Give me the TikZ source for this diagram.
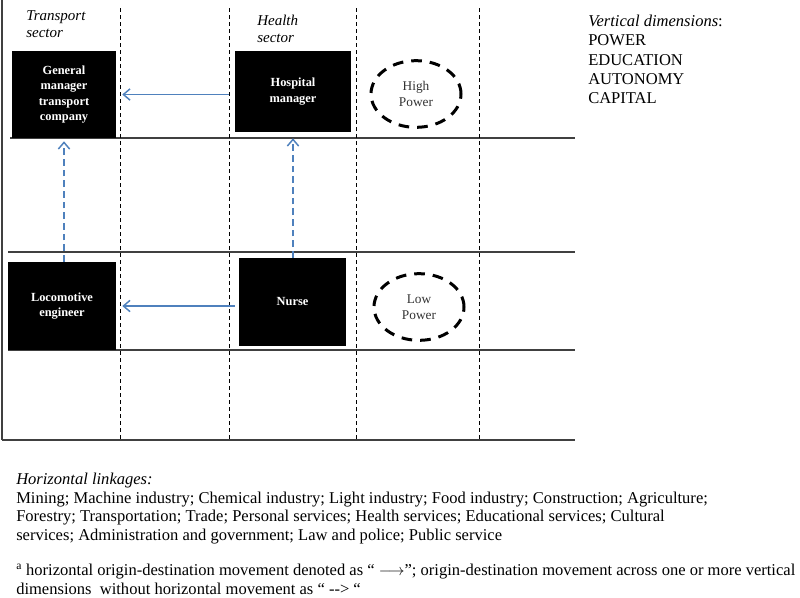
\documentclass[tikz,border=0pt]{standalone}
\usepackage{fontspec}
\setmainfont{Liberation Serif}
\usetikzlibrary{arrows.meta,shapes.geometric}

\tikzset{
  occbox/.style={fill=black, text=white, inner sep=0pt, align=center, font=\bfseries\fontsize{9.3}{11.6}\selectfont},
  powerring/.style={ellipse, draw=black, line width=2.25pt, dash pattern=on 8pt off 6pt, minimum width=67.5pt, minimum height=50pt, inner sep=0pt, align=center, text=black!80, font=\fontsize{10}{11.8}\selectfont},
  sectorline/.style={draw=black!75, line width=1pt},
  columnline/.style={draw=black, line width=0.75pt, dash pattern=on 3pt off 2.25pt},
  movearrow/.style={draw={rgb,255:red,79;green,129;blue,189}, line width=1.1pt, -{Straight Barb[length=5pt,width=8.5pt]}},
  jumparrow/.style={movearrow, dash pattern=on 5pt off 3pt},
  sectorlabel/.style={anchor=north west, inner sep=0pt, align=left, font=\itshape\fontsize{11.25}{12.75}\selectfont},
  notetext/.style={anchor=north west, inner sep=0pt, align=left, font=\fontsize{12.4}{13.9}\selectfont},
}

\begin{document}
\begin{tikzpicture}[x=0.75pt,y=0.75pt,yscale=-1,xscale=1]
\useasboundingbox (0,0) rectangle (800,597);

%Straight Lines
\draw[sectorline] (2,0) -- (2,440);
\draw[sectorline] (10,138) -- (575,138);
\draw[sectorline] (8,252) -- (575,252);
\draw[sectorline] (8,350) -- (575,350);
\draw[sectorline] (2,440) -- (575,440);
%Dashed columns
\foreach \x in {120,229,356,479}
  \draw[columnline] (\x,8) -- (\x,440);

%Shape: Rectangle
\node[occbox, minimum width=78pt, minimum height=65.25pt] (gm) at (64,94.5) {General\\manager\\transport\\company};
\node[occbox, minimum width=87pt, minimum height=60.75pt] (hosp) at (293,91.5) {Hospital\\manager};
\node[occbox, minimum width=81pt, minimum height=66pt] (loco) at (62,306) {Locomotive\\engineer};
\node[occbox, minimum width=80.25pt, minimum height=66pt] (nurse) at (292.5,302) {Nurse};

%Shape: Ellipse
\node[powerring] (high) at (416,94) {High\\Power};
\node[powerring] (low) at (419,307) {Low\\Power};

%Arrows
\draw[movearrow, shorten <=4.5pt, shorten >=4.5pt] (gm.east -| hosp.west) -- (gm.east);
\draw[movearrow, shorten <=3pt, shorten >=4.5pt] (loco.east -| nurse.west) -- (loco.east);
\draw[jumparrow, shorten >=2.25pt] (loco.north -| gm.south) -- (gm.south);
\draw[jumparrow, shorten >=4.5pt] (nurse.north -| hosp.south) -- (hosp.south);

% Text Node
\node[sectorlabel] (transport) at (26,10) {Transport\\sector};
% Text Node
\node[sectorlabel] (health) at (257,15) {Health\\sector};
% Text Node
\node[anchor=north west, inner sep=0pt, align=left, font=\fontsize{12.4}{14.4}\selectfont] (dims) at (588,15) {\textit{Vertical dimensions}:\\POWER\\EDUCATION\\AUTONOMY\\CAPITAL};
% Text Node
\node[notetext] (linkages) at (16,473) {\textit{Horizontal linkages:}\\Mining; Machine industry; Chemical industry; Light industry; Food industry; Construction; Agriculture;\\Forestry; Transportation; Trade; Personal services; Health services; Educational services; Cultural\\services; Administration and government; Law and police; Public service};
% Text Node
\node[notetext] (note) at (16,564) {\textsuperscript{a} horizontal origin-destination movement denoted as “ $\longrightarrow$”; origin-destination movement across one or more vertical\\dimensions\ \ without horizontal movement as “ -{}-> “};

\end{tikzpicture}
\end{document}
